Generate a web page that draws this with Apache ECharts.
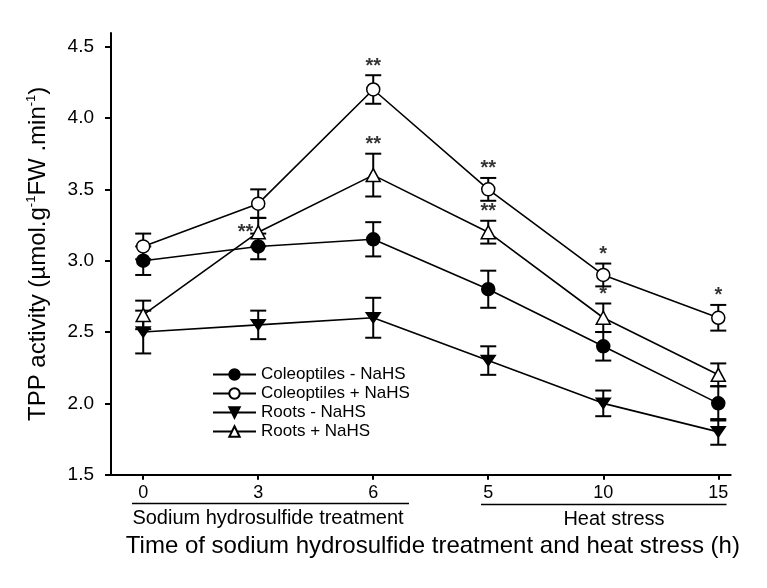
<!DOCTYPE html>
<html>
<head>
<meta charset="utf-8">
<script src="https://cdn.jsdelivr.net/npm/echarts@6/dist/echarts.min.js"></script>
<style>
html,body{margin:0;padding:0;background:#fff;}
#chart{width:767px;height:588px;}
</style>
</head>
<body>
<div id="chart"></div>
<script>
// ---- data ----
const categories = ['0', '3', '6', '5', '10', '15'];
const yTicks = [1.5, 2.0, 2.5, 3.0, 3.5, 4.0, 4.5];

const colMinus      = [3.00, 3.10, 3.15, 2.80, 2.40, 2.00];
const colMinusErr   = [0.10, 0.09, 0.12, 0.13, 0.10, 0.12];
const colPlus       = [3.10, 3.40, 4.20, 3.50, 2.90, 2.60];
const colPlusErr    = [0.09, 0.10, 0.10, 0.08, 0.08, 0.09];
const rootsMinus    = [2.50, 2.55, 2.60, 2.30, 2.00, 1.80];
const rootsMinusErr = [0.15, 0.10, 0.14, 0.10, 0.09, 0.09];
const rootsPlus     = [2.62, 3.20, 3.60, 3.20, 2.60, 2.20];
const rootsPlusErr  = [0.10, 0.10, 0.15, 0.08, 0.10, 0.08];

const colPlusStars   = ['', '', '**', '**', '*', '*'];
const rootsPlusStars = ['', '**', '**', '**', '*', ''];

// ---- styling / layout ----
const FONT = 'Arial, "Liberation Sans", sans-serif';
const downTri = 'path://M0,0L20,0L10,17Z';

const groups = [
  {name: 'Coleoptiles - NaHS', vals: colMinus, err: colMinusErr, symbol: 'circle', size: 13, fill: '#000'},
  {name: 'Coleoptiles + NaHS', vals: colPlus, err: colPlusErr, symbol: 'circle', size: 13, fill: '#fff', stars: colPlusStars},
  {name: 'Roots - NaHS', vals: rootsMinus, err: rootsMinusErr, symbol: downTri, size: [14, 12], fill: '#000'},
  {name: 'Roots + NaHS', vals: rootsPlus, err: rootsPlusErr, symbol: 'triangle', size: [14, 13], fill: '#fff', stars: rootsPlusStars, starLeft: [1]}
];

const series = [];
groups.forEach(g => {
  // error bars
  series.push({
    type: 'custom',
    name: g.name + ' err',
    z: 1,
    silent: true,
    data: g.vals.map((v, i) => [i, v, g.err[i]]),
    renderItem: function (params, api) {
      const x = api.value(0), m = api.value(1), e = api.value(2);
      const top = api.coord([x, m + e]);
      const bot = api.coord([x, m - e]);
      const half = 8;
      const st = {stroke: '#000', lineWidth: 2};
      return {
        type: 'group',
        children: [
          {type: 'line', shape: {x1: top[0], y1: top[1], x2: bot[0], y2: bot[1]}, style: st},
          {type: 'line', shape: {x1: top[0] - half, y1: top[1], x2: top[0] + half, y2: top[1]}, style: st},
          {type: 'line', shape: {x1: bot[0] - half, y1: bot[1], x2: bot[0] + half, y2: bot[1]}, style: st}
        ]
      };
    }
  });
  // lines with markers
  series.push({
    type: 'line',
    name: g.name,
    z: 3,
    data: g.vals.map((v, i) => [i, v]),
    symbol: g.symbol,
    symbolSize: g.size,
    symbolKeepAspect: true,
    showAllSymbol: true,
    lineStyle: {color: '#000', width: 1.6},
    itemStyle: {color: g.fill, borderColor: '#000', borderWidth: 1.5},
    emphasis: {disabled: true}
  });
  // significance marks
  if (g.stars) {
    const left = g.starLeft || [];
    const pts = [];
    g.stars.forEach((s, i) => {
      if (!s) return;
      if (left.indexOf(i) >= 0) {
        pts.push({value: [i, g.vals[i]], star: s, label: {position: 'left', distance: 5}});
      } else {
        pts.push({value: [i, g.vals[i] + g.err[i]], star: s});
      }
    });
    series.push({
      type: 'scatter',
      name: g.name + ' sig',
      z: 4,
      silent: true,
      symbolSize: 0,
      data: pts,
      label: {
        show: true,
        position: 'top',
        distance: -1,
        formatter: p => p.data.star,
        fontFamily: FONT,
        fontSize: 20,
        fontWeight: 'bold',
        lineHeight: 20,
        color: '#000'
      }
    });
  }
});

const chart = echarts.init(document.getElementById('chart'), null, {renderer: 'canvas'});
chart.setOption({
  backgroundColor: '#fff',
  animation: false,
  grid: {left: 111, right: 36.3, top: 33, bottom: 113.3, containLabel: false},
  legend: {
    orient: 'vertical',
    left: 212,
    top: 366,
    padding: 0,
    itemWidth: 43,
    itemHeight: 13,
    itemGap: 2,
    data: groups.map(g => g.name),
    textStyle: {fontFamily: FONT, fontSize: 17, lineHeight: 17, color: '#000'},
    selectedMode: false
  },
  xAxis: {
    type: 'value',
    min: -0.28,
    max: 5.108,
    splitLine: {show: false},
    axisLine: {show: true, onZero: false, lineStyle: {color: '#000', width: 2}},
    axisTick: {show: true, length: 5, lineStyle: {color: '#000', width: 2},
               customValues: categories.map((c, i) => i)},
    axisLabel: {
      customValues: categories.map((c, i) => i),
      formatter: v => categories[Math.round(v)],
      fontFamily: FONT, fontSize: 18, color: '#000', margin: 9
    },
    name: 'Time of sodium hydrosulfide treatment and heat stress (h)',
    nameLocation: 'middle',
    nameGap: 60,
    nameTextStyle: {fontFamily: FONT, fontSize: 24, color: '#000', padding: [0, 0, 0, 24]}
  },
  yAxis: {
    type: 'value',
    min: 1.5,
    max: 4.596,
    splitLine: {show: false},
    axisLine: {show: true, onZero: false, lineStyle: {color: '#000', width: 2}},
    axisTick: {show: true, length: 6, lineStyle: {color: '#000', width: 2},
               customValues: yTicks},
    axisLabel: {
      customValues: yTicks,
      formatter: v => v.toFixed(1),
      fontFamily: FONT, fontSize: 19, color: '#000', margin: 17
    },
    name: 'TPP activity (µmol.g{sup|-1}FW .min{sup|-1})',
    nameLocation: 'middle',
    nameGap: 60,
    nameRotate: 90,
    nameTextStyle: {
      fontFamily: FONT, fontSize: 24, lineHeight: 26, color: '#000',
      rich: {sup: {fontFamily: FONT, fontSize: 13, lineHeight: 12, verticalAlign: 'top', color: '#000'}}
    }
  },
  graphic: [
    {type: 'line', shape: {x1: 132, y1: 503.5, x2: 409, y2: 503.5}, style: {stroke: '#000', lineWidth: 1.5}},
    {type: 'line', shape: {x1: 481, y1: 504.5, x2: 726.5, y2: 504.5}, style: {stroke: '#000', lineWidth: 1.5}},
    {type: 'text', x: 268, y: 518.5, style: {text: 'Sodium hydrosulfide treatment', font: '20px ' + FONT, fill: '#000', align: 'center', verticalAlign: 'middle'}},
    {type: 'text', x: 614, y: 519.5, style: {text: 'Heat stress', font: '20px ' + FONT, fill: '#000', align: 'center', verticalAlign: 'middle'}}
  ],
  series: series
});
</script>
</body>
</html>
